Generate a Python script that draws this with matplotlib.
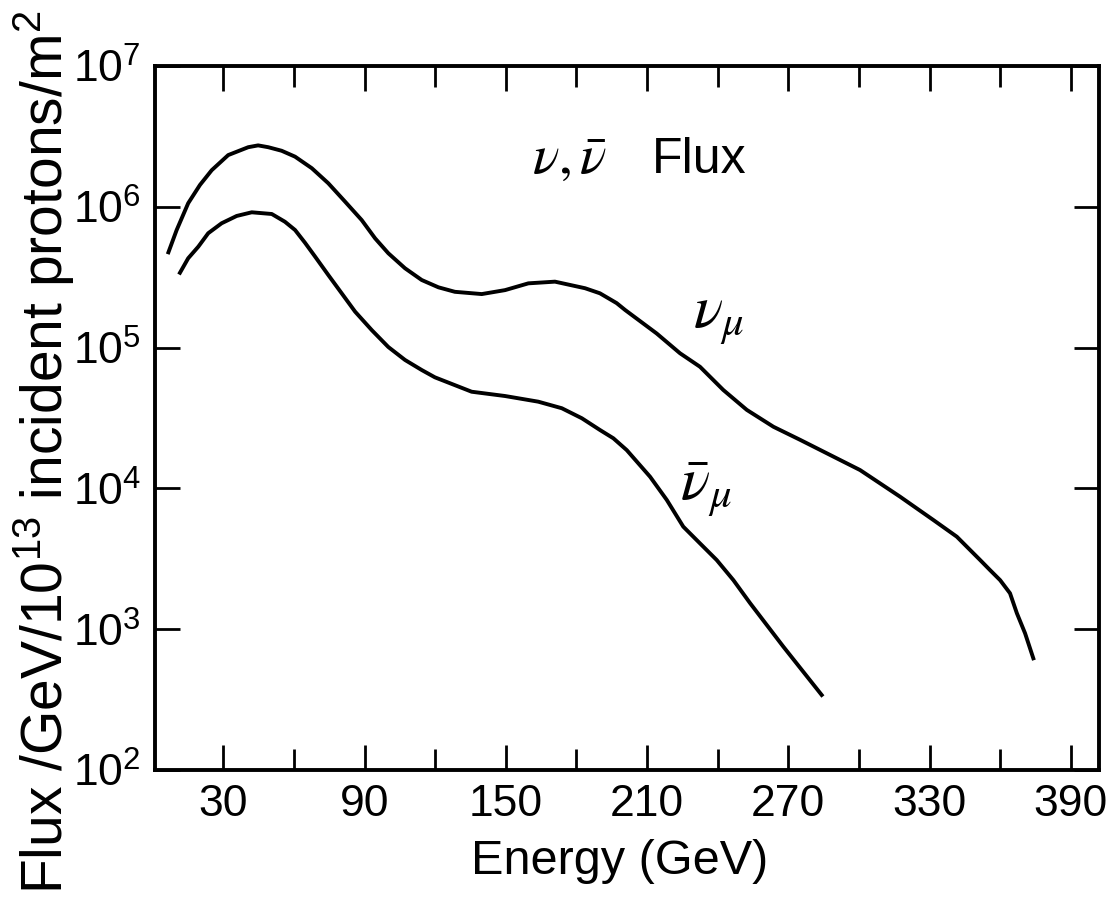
import matplotlib
matplotlib.use('Agg')
import matplotlib.pyplot as plt
from matplotlib.ticker import FixedLocator, NullLocator

plt.rcParams['font.family'] = ['Liberation Sans', 'DejaVu Sans']
plt.rcParams['mathtext.fontset'] = 'stix'

# nu_mu flux (upper curve)
e_nu = [6.7, 10.2, 15.1, 20.1, 25.1, 32.1, 40.6, 44.8, 49.1, 54.8, 60.5, 67.6, 74.6,
        81.7, 88.8, 94.5, 100.1, 107.2, 114.3, 121.4, 128.4, 139.8, 149.7, 159.6,
        170.9, 183.7, 190.0, 197.1, 200.7, 214.1, 224.0, 232.5, 242.4, 252.4, 263.7,
        275.1, 300.5, 317.5, 331.6, 341.6, 351.5, 355.7, 360.0, 364.2, 367.1, 370.6,
        374.1]
f_nu = [4.75e5, 6.84e5, 1.06e6, 1.43e6, 1.82e6, 2.33e6, 2.65e6, 2.73e6, 2.65e6, 2.50e6,
        2.27e6, 1.88e6, 1.47e6, 1.09e6, 8.05e5, 5.97e5, 4.68e5, 3.66e5, 3.02e5, 2.68e5,
        2.49e5, 2.40e5, 2.56e5, 2.86e5, 2.94e5, 2.64e5, 2.43e5, 2.07e5, 1.85e5, 1.26e5,
        9.12e4, 7.31e4, 5.00e4, 3.61e4, 2.74e4, 2.21e4, 1.35e4, 8.73e3, 5.97e3, 4.54e3,
        3.10e3, 2.63e3, 2.23e3, 1.80e3, 1.30e3, 9.35e2, 6.21e2]

# nubar_mu flux (lower curve)
e_nubar = [11.6, 15.1, 19.4, 23.6, 29.3, 35.7, 42.1, 50.6, 56.2, 60.5, 64.7, 69.0, 74.6,
           80.3, 86.0, 93.1, 100.1, 107.2, 114.3, 119.9, 135.5, 149.7, 163.8, 173.8,
           182.3, 190.0, 195.7, 201.4, 211.3, 218.4, 225.4, 232.5, 239.6, 246.7, 253.8,
           267.9, 284.2]
f_nubar = [3.40e5, 4.31e5, 5.21e5, 6.49e5, 7.64e5, 8.61e5, 9.14e5, 8.89e5, 7.83e5, 6.84e5,
           5.56e5, 4.43e5, 3.28e5, 2.43e5, 1.80e5, 1.33e5, 1.01e5, 8.17e4, 6.93e4, 6.15e4,
           4.86e4, 4.53e4, 4.13e4, 3.71e4, 3.15e4, 2.60e4, 2.27e4, 1.87e4, 1.21e4, 8.28e3,
           5.35e3, 4.07e3, 3.10e3, 2.23e3, 1.53e3, 7.52e2, 3.41e2]

xticks = [30, 90, 150, 210, 270, 330, 390]
xminor = [60, 120, 180, 240, 300, 360]
yticks = [1e2, 1e3, 1e4, 1e5, 1e6, 1e7]
ylabels = [r'$\mathregular{10^{%d}}$' % k for k in range(2, 8)]

W, H = 1110, 901
fig = plt.figure(figsize=(W / 100, H / 100), dpi=100)
ax = fig.add_axes([155 / W, (H - 770) / H, 944 / W, 704 / H])

ax.plot(e_nu, f_nu, color='black', lw=2.8, solid_joinstyle='round')
ax.plot(e_nubar, f_nubar, color='black', lw=2.8, solid_joinstyle='round')

ax.set_yscale('log')
ax.set_xlim(1, 402)
ax.set_ylim(1e2, 1e7)

ax.xaxis.set_major_locator(FixedLocator(xticks))
ax.xaxis.set_minor_locator(FixedLocator(xminor))
ax.set_xticklabels([str(v) for v in xticks])
ax.yaxis.set_major_locator(FixedLocator(yticks))
ax.yaxis.set_minor_locator(NullLocator())
ax.set_yticklabels(ylabels)

ax.tick_params(which='both', direction='in', top=True, right=True, width=2, color='black')
ax.tick_params(which='major', length=18, labelsize=32, pad=10)
ax.tick_params(which='minor', length=15)
for s in ax.spines.values():
    s.set_linewidth(2.8)

ax.text(0.399, 0.866, r'$\nu,\bar{\nu}$', transform=ax.transAxes,
        ha='left', va='center', fontsize=40)
ax.text(0.526, 0.866, 'Flux', transform=ax.transAxes,
        ha='left', va='center', fontsize=36)
ax.text(0.570, 0.629, r'$\nu_\mu$', transform=ax.transAxes,
        ha='left', va='baseline', fontsize=44)
ax.text(0.556, 0.384, r'$\bar{\nu}_\mu$', transform=ax.transAxes,
        ha='left', va='baseline', fontsize=44)

fig.text(620 / W, 1 - 862 / H, 'Energy (GeV)', ha='center', va='center', fontsize=35)
fig.text(44 / W, 1 - 452 / H, r'Flux /GeV/$\mathregular{10^{13}}$ incident protons/$\mathregular{m^2}$',
         rotation=90, ha='center', va='center', fontsize=41)

fig.savefig('out.png', dpi=100)
